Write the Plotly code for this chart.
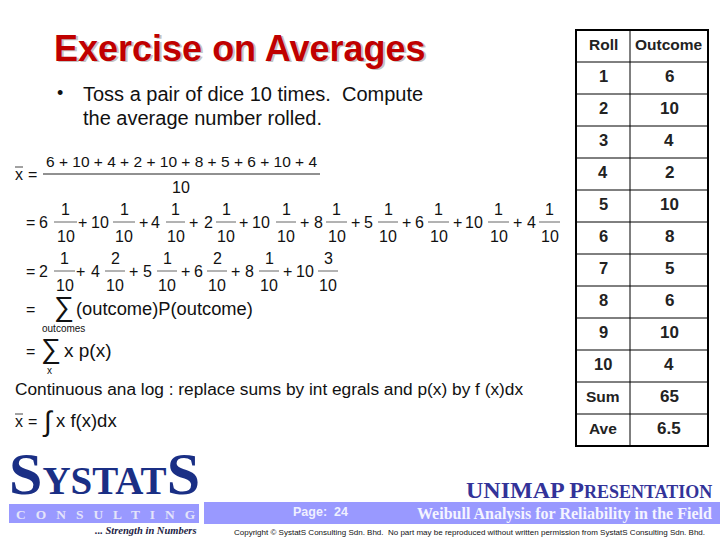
import plotly.graph_objects as go

# Table values
rolls = ["1", "2", "3", "4", "5", "6", "7", "8", "9", "10", "Sum", "Ave"]
outcomes = ["6", "10", "4", "2", "10", "8", "5", "6", "10", "4", "65", "6.5"]
table_header = ["Roll", "Outcome"]

# Terms of the worked formula
line2_coefs = ["6", "10", "4", "2", "10", "8", "5", "6", "10", "4"]
line2_nums = ["1", "1", "1", "1", "1", "1", "1", "1", "1", "1"]
line3_coefs = ["2", "4", "5", "6", "8", "10"]
line3_nums = ["1", "2", "1", "2", "1", "3"]
denominator = "10"

SANS = "Liberation Sans"
SERIF = "Liberation Serif"
INK = "#111111"
BAND = "#9999ff"
NAVY = "#1a2f85"

annots = []
shapes = []


def text(x, y, s, size=16, color=INK, family=SANS, anchor="left", bold=False):
    if bold:
        s = "<b>" + s + "</b>"
    annots.append(dict(
        x=x, y=y, text=s, xref="x", yref="y", showarrow=False,
        xanchor=anchor, yanchor="middle", borderpad=0,
        font=dict(size=size, color=color, family=family),
    ))


def line(x0, y0, x1, y1, color="#444444", width=1):
    shapes.append(dict(type="line", x0=x0, y0=y0, x1=x1, y1=y1, xref="x", yref="y",
                       line=dict(color=color, width=width)))


def rect(x0, y0, x1, y1, color):
    shapes.append(dict(type="rect", x0=x0, y0=y0, x1=x1, y1=y1, xref="x", yref="y",
                       fillcolor=color, line=dict(width=0), layer="below"))


def fraction_row(coefs, nums, coef_x, bar_x, plus_x, y):
    for i, (c, n) in enumerate(zip(coefs, nums)):
        text(coef_x[i], y, c, anchor="center")
        x0, x1 = bar_x[i]
        line(x0, y, x1, y, color="#666666")
        mid = (x0 + x1) / 2
        text(mid, y - 13, n, anchor="center")
        text(mid, y + 14, denominator, anchor="center")
        if i < len(plus_x):
            text(plus_x[i], y, "+", anchor="center")


# Title and bullet
text(54.5, 49.5, "Exercise on Averages", size=36, color="#c4c4c4", bold=True)
text(53, 48, "Exercise on Averages", size=36, color="#c00000", bold=True)
text(56, 93, "•", size=18)
text(81.5, 94, "Toss a pair of dice 10 times.  Compute", size=20)
text(81.5, 118, "the average number rolled.", size=20)

# First line of the formula
text(14, 174, "x", size=16)
line(15, 167, 23, 167)
text(27, 174, "=", size=16)
line(43, 174, 320, 174, color="#222222")
text(181, 161, " + ".join(outcomes[:10]), size=15.5, anchor="center")
text(181, 187, denominator, anchor="center")

# Second line
text(25, 222, "=", size=16)
fraction_row(
    line2_coefs, line2_nums,
    [43, 100, 155, 208, 261, 318, 368, 419, 474, 531],
    [(54, 77), (113, 135), (166, 185), (216, 236), (276, 296),
     (326, 347), (378, 398), (428, 449), (488, 509), (539, 560)],
    [82, 143, 193, 243, 304, 355, 406, 457, 517],
    222,
)

# Third line
text(25, 271, "=", size=16)
fraction_row(
    line3_coefs, line3_nums,
    [43, 95, 147, 198, 249, 305],
    [(54, 75), (105, 125), (157, 177), (207, 227), (259, 279), (318, 338)],
    [80, 133, 185, 235, 287],
    271,
)

# Sums and the continuous analog
text(25, 309, "=", size=16)
text(53, 306, "∑", size=28)
text(75, 308, "(outcome)P(outcome)", size=18.3)
text(63, 328, "outcomes", size=10, anchor="center")
text(25, 351, "=", size=16)
text(40, 348, "∑", size=28)
text(63, 350, "x p(x)", size=19)
text(49, 370, "x", size=10, anchor="center")
text(14, 389, "Continuous ana log : replace sums by int egrals and p(x) by f (x)dx", size=17.3)
text(14, 421, "x", size=16)
line(15, 414, 23, 414)
text(27, 421, "=", size=16)
text(41, 421, "∫", size=28)
text(55, 420, "x f(x)dx", size=18.5)

# Roll / Outcome table, one row of 32px per entry below the header
col_edges = [576, 630, 708]
col_mid = [603, 669]
table_top = 30
row_h = 32
n_rows = len(rolls) + 1
table_bottom = table_top + n_rows * row_h

text(col_mid[0], table_top + row_h / 2 - 2, table_header[0], size=15.5, anchor="center", bold=True, color="#222222")
text(col_mid[1], table_top + row_h / 2 - 2, table_header[1], size=15.5, anchor="center", bold=True, color="#222222")
for i, (r, o) in enumerate(zip(rolls, outcomes)):
    y = table_top + (i + 1.5) * row_h - 2
    text(col_mid[0], y, r, size=15.5 if r.isalpha() else 16.5, anchor="center", bold=True, color="#222222")
    text(col_mid[1], y, o, size=17, anchor="center", bold=True, color="#222222")
for i in range(1, n_rows):
    line(col_edges[0], table_top + i * row_h, col_edges[2], table_top + i * row_h, color="black")
line(col_edges[1], table_top, col_edges[1], table_bottom, color="black")
shapes.append(dict(type="rect", x0=col_edges[0], y0=table_top, x1=col_edges[2], y1=table_bottom,
                   xref="x", yref="y", line=dict(color="black", width=2)))

# Footer bands
rect(9, 504, 199, 523, BAND)
rect(204, 502, 720, 524, BAND)

# Logo
text(8, 474, '<span style="font-size:60px">S</span>YSTAT<span style="font-size:60px">S</span>',
     size=39, color=NAVY, family=SERIF, bold=True)
text(15, 514, "C   O   N   S   U   L   T   I   N   G", size=13.4, color="#e4e4fa", family=SERIF, bold=True)
text(198, 530, "<i>... Strength in Numbers</i>", size=10.5, color="#222244", family=SERIF, anchor="right", bold=True)

# Footer text
text(320, 512, "Page:  24", size=12.5, color="#f0f0ff", bold=True, anchor="center")
text(713, 490, 'UNIMAP P<span style="font-size:18px">RESENTATION</span>', size=24, color="#333399",
     family=SERIF, anchor="right", bold=True)
text(713, 514, "Weibull Analysis for Reliability in the Field", size=16, color="#f4f4ff",
     family=SERIF, anchor="right", bold=True)
text(706, 532, "Copyright © SystatS Consulting Sdn. Bhd.  No part may be reproduced without written permission from SystatS Consulting Sdn. Bhd.",
     size=8, anchor="right")

fig = go.Figure()

fig.update_layout(
    width=720, height=540,
    margin=dict(l=0, r=0, t=0, b=0),
    paper_bgcolor="white", plot_bgcolor="white",
    showlegend=False,
    xaxis=dict(range=[0, 720], visible=False, fixedrange=True),
    yaxis=dict(range=[540, 0], visible=False, fixedrange=True),
    annotations=annots,
    shapes=shapes,
)

# The default page has an 8px body margin
fig.write_html("out.html", post_script="document.body.style.margin='0';",
               config={"displayModeBar": False})
